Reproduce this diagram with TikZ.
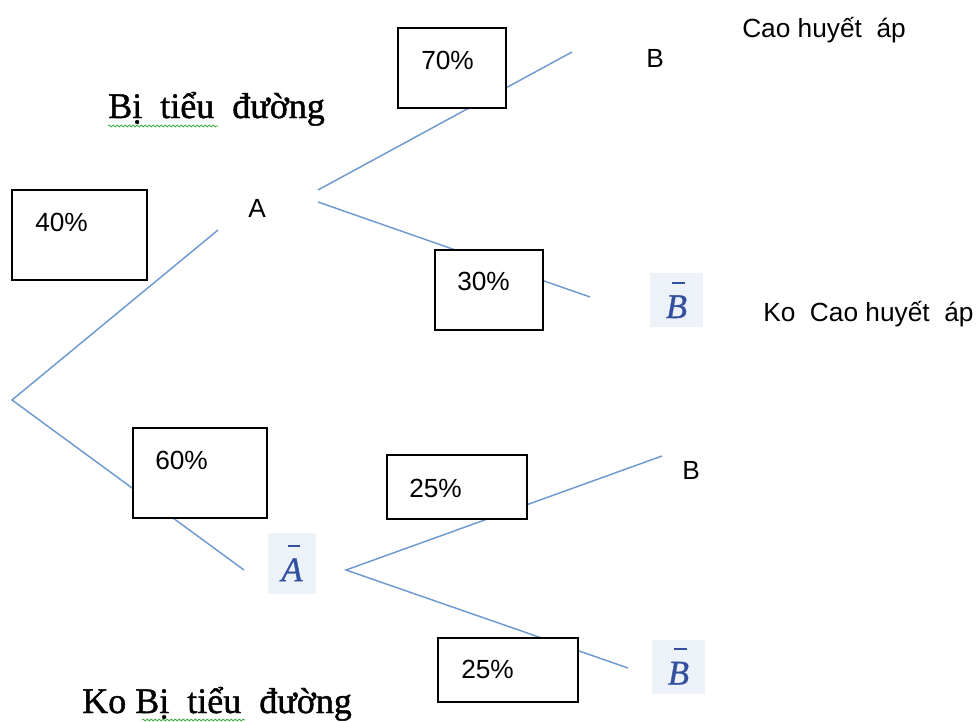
\documentclass[tikz,border=0pt]{standalone}
\usepackage{fontspec}
\setmainfont{Liberation Serif}
\newfontfamily\labelfont{Liberation Sans}
\newfontfamily\captionfont[FakeBold=1.2]{Liberation Serif}
\newfontfamily\eventfont[FakeBold=0.8]{Liberation Serif}
\usetikzlibrary{fit,decorations.pathmorphing}
\definecolor{branchblue}{HTML}{6F9AD0}
\definecolor{barblue}{HTML}{33509F}
\definecolor{barbg}{HTML}{EDF1F8}
\definecolor{spellgreen}{HTML}{3CB043}

% italic letter with a short bar above it (complement of an event)
\newcommand{\complementof}[1]{%
  \setbox0\hbox{\itshape #1}%
  \rlap{\kern0.3\wd0\raisebox{\dimexpr\ht0+0.33em\relax}{\rule{0.6\wd0}{0.06em}}}%
  \box0}

\begin{document}
\begin{tikzpicture}[x=0.75pt,y=-0.75pt,
  branch/.style={draw=branchblue, line width=1.1pt},
  pbox/.style={draw=black, fill=white, line width=1.1pt, rectangle, inner sep=0pt},
  ptext/.style={font=\labelfont\fontsize{19.7}{22}\selectfont, anchor=base west, inner sep=0pt},
  word/.style={font=\captionfont\fontsize{27}{30}\selectfont, anchor=base west, inner sep=0pt},
  evnode/.style={fill=barbg, text=barblue, inner sep=0pt, anchor=center,
    font=\eventfont\fontsize{26}{30}\selectfont,
    minimum width=39.75pt, minimum height=40.5pt},
  spellline/.style={draw=spellgreen, line width=0.6pt, decorate,
    decoration={snake, amplitude=0.7pt, segment length=3pt}}
]
\useasboundingbox[fill=white] (0,0) rectangle (980,721);

% branch points
\coordinate (root) at (12,400);
\coordinate (aIn) at (218,230);
\coordinate (abarIn) at (244,570);
\coordinate (aOut1) at (318,190);
\coordinate (aOut2) at (318,202);
\coordinate (abarOut) at (346,570);
\coordinate (bEnd) at (572,52);
\coordinate (bbarEnd) at (590,297);
\coordinate (b2End) at (662,456);
\coordinate (bbar2End) at (628,668);

% tree branches
\draw[branch] (aIn) -- (root) -- (abarIn);
\draw[branch] (aOut1) -- (bEnd);
\draw[branch] (aOut2) -- (bbarEnd);
\draw[branch] (b2End) -- (abarOut) -- (bbar2End);

% probability boxes
\node[pbox, fit={(12,190) (147,280)}] (p40) {};
\node[pbox, fit={(398,28) (506,108)}] (p70) {};
\node[pbox, fit={(435,250) (543,330)}] (p30) {};
\node[pbox, fit={(133,428) (267,518)}] (p60) {};
\node[pbox, fit={(387,455) (527,519)}] (p25a) {};
\node[pbox, fit={(438,638) (578,702)}] (p25b) {};

\node[ptext] (t40) at (35,231) {40\%};
\node[ptext] (t70) at (421,69) {70\%};
\node[ptext] (t30) at (457,290) {30\%};
\node[ptext] (t60) at (155,469) {60\%};
\node[ptext] (t25a) at (409,497) {25\%};
\node[ptext] (t25b) at (461,678) {25\%};

% event labels
\node[ptext] (evA) at (248,217) {A};
\node[ptext] (evB1) at (646,67) {B};
\node[ptext] (evB2) at (682,479) {B};

\node[evnode] (evBbar1) at (676.5,300) {\complementof{B}};
\node[evnode, minimum width=36pt, minimum height=45.75pt] (evAbar) at (292,563) {\complementof{A}};
\node[evnode] (evBbar2) at (678.5,666.5) {\complementof{B}};

% captions
\node[ptext] (capHigh) at (742,37) {Cao huyết\ \ áp};
\node[ptext] (capNotHigh) at (763,321) {Ko\ \ Cao huyết\ \ áp};
\node[word] (capDiab) at (108,118) {Bị\ \ tiểu\ \ đường};
\node[word] (capNoDiab) at (82,713) {Ko Bị\ \ tiểu\ \ đường};

% spell-check squiggles
\draw[spellline] (108,126) -- (218,126);
\begin{scope}
\clip (0,0) rectangle (980,721);
\draw[spellline] (142,720) -- (245,720);
\end{scope}
\end{tikzpicture}
\end{document}
